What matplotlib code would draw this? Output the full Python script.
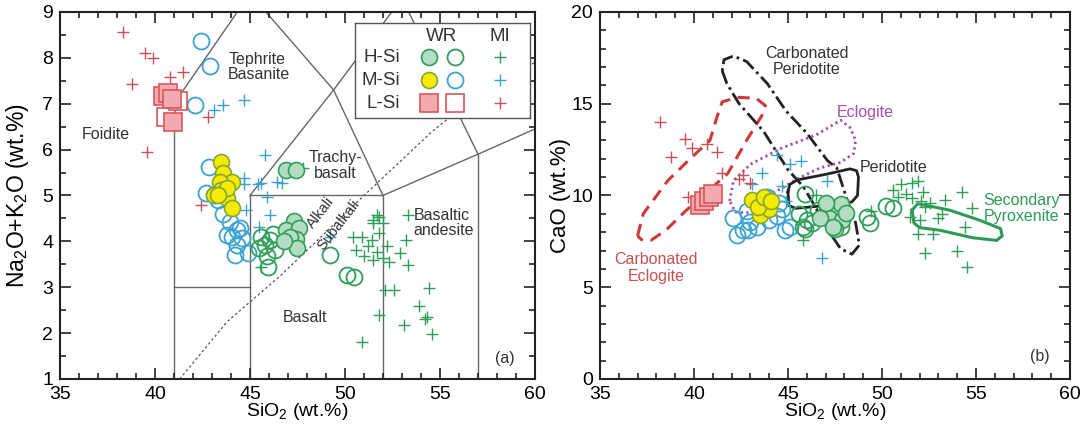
import numpy as np
import matplotlib.pyplot as plt
from matplotlib.ticker import MultipleLocator

plt.rcParams['font.family'] = ['Liberation Sans', 'DejaVu Sans']
plt.rcParams['mathtext.fontset'] = 'custom'
plt.rcParams['mathtext.rm'] = 'Liberation Sans'

# ---------------- data: (a) TAS ----------------
# L-Si
ls_mi_x = [38.3, 39.5, 39.9, 41.5, 40.8, 38.8, 42.8, 39.6, 42.4]
ls_mi_y = [8.57, 8.1, 7.99, 7.69, 7.59, 7.42, 6.72, 5.95, 4.8]
ls_wr_x = [40.4, 40.7, 40.9, 40.95]
ls_wr_y = [7.16, 7.24, 7.1, 6.61]
ls_wro_x = [40.6, 41.2]
ls_wro_y = [6.72, 7.05]
# M-Si
ms_mi_x = [43.1, 43.6, 44.7, 45.8, 44.7, 45.4, 46.4, 46.7, 45.9, 44.8, 46.05, 45.5, 49.2, 44.7, 45.6]
ms_mi_y = [6.87, 6.98, 7.09, 5.89, 5.39, 5.24, 5.3, 5.28, 4.97, 4.69, 4.58, 4.32, 4.1, 5.24, 5.28]
ms_wr_x = [43.5, 43.6, 44.05, 43.4, 43.5, 43.8, 43.1, 44.05, 43.8, 43.3]
ms_wr_y = [5.74, 5.5, 5.3, 5.3, 5.13, 4.95, 5.0, 4.73, 5.17, 5.02]
ms_wro_x = [42.4, 42.9, 42.1, 42.85, 43.1, 42.7, 43.3, 43.95, 44.3, 44.05, 44.6, 44.3, 44.9, 44.2, 43.8, 44.5, 43.6]
ms_wro_y = [8.36, 7.83, 6.98, 5.62, 5.0, 5.06, 4.9, 4.43, 4.25, 4.1, 4.08, 3.93, 3.75, 3.7, 4.14, 4.3, 4.6]
# H-Si
hs_mi_x = [51.7, 51.5, 52.0, 50.4, 50.9, 51.4, 51.8, 50.6, 51.2, 51.7, 52.2, 52.0, 51.5, 52.3, 51.0,
           53.3, 53.2, 52.9, 53.3, 52.1, 52.6, 54.4, 53.9, 54.2, 54.3, 54.6, 53.1, 51.8, 50.9,
           51.5, 51.8, 45.6, 47.8]
hs_mi_y = [4.58, 4.4, 4.4, 4.1, 4.1, 4.03, 4.19, 3.82, 3.89, 3.77, 3.89, 3.64, 3.6, 3.56, 3.67,
           4.58, 4.03, 3.75, 3.49, 2.94, 2.94, 2.99, 2.6, 2.31, 2.35, 1.98, 2.18, 2.4, 1.81,
           4.47, 4.54, 3.45, 5.6]
hs_wr_x = [46.9, 47.4, 47.3, 46.9, 47.6, 47.4, 47.1, 47.5, 46.8]
hs_wr_y = [5.55, 5.56, 4.45, 4.25, 4.3, 4.05, 4.1, 3.85, 4.0]
hs_wro_x = [45.8, 46.05, 45.6, 46.3, 45.9, 45.95, 45.5, 46.2, 46.9, 49.2, 50.1, 50.5]
hs_wro_y = [3.93, 4.03, 4.1, 3.82, 3.67, 3.45, 3.85, 4.15, 4.03, 3.7, 3.27, 3.23]

# TAS field boundaries (Le Bas et al., 1986)
tas_lines = [
    [(41, 1), (41, 7)],
    [(41, 3), (45, 3)],
    [(45, 1), (45, 5)],
    [(45, 5), (52, 5)],
    [(52, 1), (52, 5)],
    [(57, 1), (57, 5.9)],
    [(52, 5), (57, 5.9), (63, 7)],
    [(45, 5), (49.4, 7.3), (53, 9.3)],
    [(41, 7), (45, 9.4)],
    [(45, 9.4), (49.4, 7.3), (52, 5)],
    [(57, 5.9), (53, 9.3), (48.4, 11.5)],
]
alk_x = [41.3, 43.8, 46.6, 49.0, 51.0, 54.6, 57.0, 60.0]
alk_y = [1.0, 2.25, 3.25, 4.2, 5.0, 6.4, 7.2, 7.9]

# ---------------- data: (b) CaO ----------------
ls_mi2_x = [38.2, 39.5, 39.9, 38.8, 40.7, 41.2, 41.5, 39.7, 42.6, 43.0, 42.4]
ls_mi2_y = [14.0, 13.1, 12.6, 12.1, 12.8, 12.35, 11.25, 9.9, 11.1, 10.7, 10.9]
ls_wr2_x = [40.3, 40.55, 40.8, 41.0]
ls_wr2_y = [9.5, 9.7, 9.9, 10.1]
ms_mi2_x = [44.4, 45.7, 45.1, 43.6, 43.1, 44.7, 47.1, 44.9, 46.8]
ms_mi2_y = [12.2, 11.9, 11.7, 11.2, 10.65, 10.5, 10.8, 9.7, 6.58]
ms_wr2_x = [43.1, 43.8, 43.5, 44.0, 43.4, 43.7, 44.1]
ms_wr2_y = [9.73, 9.62, 8.91, 9.29, 9.35, 9.9, 9.7]
ms_wro2_x = [42.1, 42.6, 43.0, 43.35, 44.4, 44.7, 45.1, 42.8, 44.0, 42.3, 42.9, 44.85, 43.9, 44.5]
ms_wro2_y = [8.75, 8.1, 8.53, 8.26, 8.9, 9.29, 8.26, 9.18, 8.64, 7.83, 8.1, 8.1, 9.9, 9.6]
hs_mi2_x = [51.0, 51.6, 51.9, 50.6, 51.3, 52.2, 50.85, 51.6, 52.1, 52.55, 52.3, 51.5, 52.0, 53.0,
            53.35, 54.25, 54.8, 53.2, 54.4, 51.9, 52.7, 52.3, 54.0, 54.5, 49.4, 45.8, 46.5]
hs_mi2_y = [10.65, 10.7, 10.8, 10.3, 10.1, 10.2, 9.9, 9.85, 9.7, 9.6, 9.35, 8.8, 8.64, 8.75,
            9.73, 10.2, 9.3, 9.0, 8.3, 7.9, 7.9, 6.85, 7.0, 6.1, 9.18, 7.55, 10.0]
hs_wr2_x = [47.1, 47.6, 47.2, 47.9, 47.5, 46.7, 47.8, 48.1, 47.4, 47.0]
hs_wr2_y = [9.35, 9.18, 8.75, 8.64, 8.2, 8.75, 9.56, 9.07, 8.26, 9.6]
hs_wro2_x = [45.9, 45.6, 46.0, 45.8, 46.3, 49.2, 49.35, 45.9, 47.8, 50.2, 50.6, 47.8, 46.6]
hs_wro2_y = [10.1, 9.0, 8.64, 8.26, 8.48, 8.8, 8.5, 8.2, 9.0, 9.45, 9.3, 8.26, 9.2]

# field outlines
ce_x = [37.0, 37.3, 38.6, 39.8, 40.85, 41.2, 41.5, 42.3, 43.3, 43.8, 43.7, 42.8, 41.8, 40.6, 39.6, 38.5, 37.7, 37.2, 37.0]
ce_y = [7.8, 9.0, 10.8, 12.0, 13.0, 14.2, 15.1, 15.35, 15.3, 14.9, 14.5, 13.0, 11.2, 10.1, 9.2, 8.1, 7.55, 7.6, 7.8]
cp_x = [41.5, 41.75, 42.4, 43.7, 45.0, 45.8, 46.5, 47.2, 47.8, 48.4, 48.8, 48.6, 48.1, 47.6, 47.1, 46.0, 44.9, 43.9, 42.8, 42.1, 41.6, 41.5]
cp_y = [16.8, 16.1, 15.0, 13.5, 11.4, 10.5, 9.3, 8.0, 7.1, 6.8, 7.3, 8.5, 9.9, 11.5, 11.9, 13.4, 14.6, 16.1, 17.3, 17.6, 17.4, 16.8]
ec_x = [41.9, 42.1, 43.0, 44.7, 46.5, 47.8, 48.3, 48.6, 48.5, 47.8, 46.7, 45.5, 44.0, 42.8, 42.2, 41.9]
ec_y = [9.7, 10.8, 11.7, 12.6, 13.3, 14.1, 13.7, 13.0, 12.3, 11.8, 11.5, 10.9, 10.0, 9.05, 9.1, 9.7]
pe_x = [45.0, 45.1, 45.5, 47.0, 48.3, 48.65, 48.75, 48.7, 48.4, 47.0, 45.4, 45.05, 45.0]
pe_y = [10.2, 10.6, 10.85, 11.15, 11.45, 11.35, 11.0, 10.0, 9.65, 9.45, 9.3, 9.45, 10.2]
sp_x = [51.6, 51.9, 52.4, 53.6, 55.2, 56.3, 56.4, 56.1, 54.8, 53.1, 52.0, 51.7, 51.6]
sp_y = [9.2, 9.55, 9.45, 9.2, 8.65, 8.2, 7.8, 7.55, 7.7, 8.1, 8.25, 8.5, 9.2]

# colours
g_edge = '#2f9e5a'
g_face = '#b3dcc0'
y_face = '#f7ea00'
y_edge = '#7fa83a'
b_col = '#3ba3d4'
r_edge = '#d9565b'
r_face = '#f2aab0'
r_plus = '#c8505a'
txt = '#333333'

fig = plt.figure(figsize=(10.81, 4.29), dpi=100)
ax1 = fig.add_axes([0.0555, 0.1166, 0.4394, 0.8555])
ax2 = fig.add_axes([0.555, 0.1166, 0.4348, 0.8555])

def style(ax):
    for s in ax.spines.values():
        s.set_linewidth(1.5)
        s.set_color('#222222')
    ax.tick_params(which='both', direction='in', top=True, right=True, color='#222222', width=1.2)
    ax.tick_params(which='major', length=8, labelsize=14, pad=5)
    ax.tick_params(which='minor', length=4)

def draw_groups(ax, d):
    ms_c, ms_s, ms_p = 11.5, 13, 8
    ax.plot(d['hs_mi'][0], d['hs_mi'][1], '+', color=g_edge, ms=ms_p, mew=1.0, ls='none')
    ax.plot(d['ms_mi'][0], d['ms_mi'][1], '+', color=b_col, ms=ms_p, mew=1.0, ls='none')
    ax.plot(d['ls_mi'][0], d['ls_mi'][1], '+', color=r_plus, ms=ms_p, mew=1.0, ls='none')
    ax.plot(d['ms_wro'][0], d['ms_wro'][1], 'o', mfc='none', mec=b_col, ms=ms_c, mew=1.3, ls='none')
    ax.plot(d['hs_wro'][0], d['hs_wro'][1], 'o', mfc='none', mec=g_edge, ms=ms_c, mew=1.3, ls='none')
    ax.plot(d['hs_wr'][0], d['hs_wr'][1], 'o', mfc=g_face, mec=g_edge, ms=ms_c, mew=1.2, ls='none')
    ax.plot(d['ms_wr'][0], d['ms_wr'][1], 'o', mfc=y_face, mec=y_edge, ms=ms_c, mew=1.2, ls='none')
    if 'ls_wro' in d:
        ax.plot(d['ls_wro'][0], d['ls_wro'][1], 's', mfc='white', mec=r_edge, ms=ms_s, mew=1.2, ls='none')
    ax.plot(d['ls_wr'][0], d['ls_wr'][1], 's', mfc=r_face, mec=r_edge, ms=ms_s, mew=1.2, ls='none')

# ---------------- panel (a) ----------------
for seg in tas_lines:
    xs, ys = zip(*seg)
    ax1.plot(xs, ys, color='#666666', lw=1.0, zorder=1)
ax1.plot(alk_x, alk_y, color='#555555', lw=0.9, ls=(0, (2, 2)), zorder=1)

draw_groups(ax1, {'hs_mi': (hs_mi_x, hs_mi_y), 'ms_mi': (ms_mi_x, ms_mi_y), 'ls_mi': (ls_mi_x, ls_mi_y),
                  'ms_wro': (ms_wro_x, ms_wro_y), 'hs_wro': (hs_wro_x, hs_wro_y),
                  'hs_wr': (hs_wr_x, hs_wr_y), 'ms_wr': (ms_wr_x, ms_wr_y),
                  'ls_wro': (ls_wro_x, ls_wro_y), 'ls_wr': (ls_wr_x, ls_wr_y)})

fs = 11.5
ax1.text(37.4, 6.33, 'Foidite', fontsize=fs, color=txt, ha='center', va='center')
ax1.text(43.85, 7.8, 'Tephrite\nBasanite', fontsize=fs, color=txt, ha='left', va='center', linespacing=1.05)
ax1.text(49.5, 5.65, 'Trachy-\nbasalt', fontsize=fs, color=txt, ha='center', va='center', linespacing=1.05)
ax1.text(53.6, 4.4, 'Basaltic\nandesite', fontsize=fs, color=txt, ha='left', va='center', linespacing=1.05)
ax1.text(47.9, 2.33, 'Basalt', fontsize=fs, color=txt, ha='center', va='center')
ax1.text(48.7, 4.62, 'Alkali', fontsize=10.5, color=txt, ha='center', va='center', rotation=52)
ax1.text(49.65, 4.35, 'Subalkali', fontsize=10.5, color=txt, ha='center', va='center', rotation=52)
ax1.text(58.4, 1.45, '(a)', fontsize=11.5, color=txt, ha='center', va='center')

ax1.set_xlim(35, 60)
ax1.set_ylim(1, 9)
ax1.xaxis.set_major_locator(MultipleLocator(5))
ax1.xaxis.set_minor_locator(MultipleLocator(1))
ax1.yaxis.set_major_locator(MultipleLocator(1))
ax1.yaxis.set_minor_locator(MultipleLocator(0.5))
style(ax1)
ax1.set_xlabel('SiO$_2$ (wt.%)', fontsize=14)
ax1.set_ylabel('Na$_2$O+K$_2$O (wt.%)', fontsize=16.5)
ax1.xaxis.set_label_coords(0.5, -0.06)
ax1.yaxis.set_label_coords(-0.06, 0.5)

# legend box drawn as a small inset
lg = ax1.inset_axes([0.621, 0.711, 0.368, 0.259])
lg.set_xlim(0, 1)
lg.set_ylim(0, 1)
lg.set_xticks([])
lg.set_yticks([])
for s in lg.spines.values():
    s.set_linewidth(1.0)
    s.set_color('#555555')
rows_y = [0.642, 0.40, 0.158]
row_names = ['H-Si', 'M-Si', 'L-Si']
lg.text(0.497, 0.863, 'WR', fontsize=13.5, color=txt, ha='center', va='center')
lg.text(0.829, 0.863, 'MI', fontsize=13.5, color=txt, ha='center', va='center')
for yy, nm in zip(rows_y, row_names):
    lg.text(0.257, yy, nm, fontsize=13.5, color=txt, ha='right', va='center')
lg.plot([0.423], [rows_y[0]], 'o', mfc=g_face, mec=g_edge, ms=11.5, mew=1.2)
lg.plot([0.571], [rows_y[0]], 'o', mfc='none', mec=g_edge, ms=11.5, mew=1.3)
lg.plot([0.829], [rows_y[0]], '+', color=g_edge, ms=8, mew=1.0)
lg.plot([0.423], [rows_y[1]], 'o', mfc=y_face, mec=y_edge, ms=11.5, mew=1.2)
lg.plot([0.571], [rows_y[1]], 'o', mfc='none', mec=b_col, ms=11.5, mew=1.3)
lg.plot([0.829], [rows_y[1]], '+', color=b_col, ms=8, mew=1.0)
lg.plot([0.423], [rows_y[2]], 's', mfc=r_face, mec=r_edge, ms=13, mew=1.2)
lg.plot([0.571], [rows_y[2]], 's', mfc='white', mec=r_edge, ms=13, mew=1.2)
lg.plot([0.829], [rows_y[2]], '+', color=r_plus, ms=8, mew=1.0)

# ---------------- panel (b) ----------------
ax2.plot(ce_x, ce_y, color='#cc3a3a', lw=2.2, ls=(0, (4, 2.5)), zorder=1)
ax2.plot(cp_x, cp_y, color='#222222', lw=2.0, ls=(0, (5, 1.5, 1, 1.5)), zorder=1)
ax2.plot(ec_x, ec_y, color='#a050a8', lw=2.0, ls=(0, (0.8, 1.2)), zorder=1)
ax2.plot(pe_x, pe_y, color='#222222', lw=2.0, zorder=1)
ax2.plot(sp_x, sp_y, color='#2e9a55', lw=2.2, zorder=1)

draw_groups(ax2, {'hs_mi': (hs_mi2_x, hs_mi2_y), 'ms_mi': (ms_mi2_x, ms_mi2_y), 'ls_mi': (ls_mi2_x, ls_mi2_y),
                  'ms_wro': (ms_wro2_x, ms_wro2_y), 'hs_wro': (hs_wro2_x, hs_wro2_y),
                  'hs_wr': (hs_wr2_x, hs_wr2_y), 'ms_wr': (ms_wr2_x, ms_wr2_y),
                  'ls_wr': (ls_wr2_x, ls_wr2_y)})

ax2.text(46.0, 17.3, 'Carbonated\nPeridotite', fontsize=fs, color=txt, ha='center', va='center', linespacing=1.05)
ax2.text(49.1, 14.5, 'Eclogite', fontsize=fs, color='#a050a8', ha='center', va='center')
ax2.text(50.6, 11.5, 'Peridotite', fontsize=fs, color=txt, ha='center', va='center')
ax2.text(55.4, 9.3, 'Secondary\nPyroxenite', fontsize=fs, color='#2e9a55', ha='left', va='center', linespacing=1.05)
ax2.text(38.0, 6.06, 'Carbonated\nEclogite', fontsize=fs, color='#c85050', ha='center', va='center', linespacing=1.15)
ax2.text(58.4, 1.25, '(b)', fontsize=11.5, color=txt, ha='center', va='center')

ax2.set_xlim(35, 60)
ax2.set_ylim(0, 20)
ax2.xaxis.set_major_locator(MultipleLocator(5))
ax2.xaxis.set_minor_locator(MultipleLocator(1))
ax2.yaxis.set_major_locator(MultipleLocator(5))
ax2.yaxis.set_minor_locator(MultipleLocator(1))
style(ax2)
ax2.set_xlabel('SiO$_2$ (wt.%)', fontsize=14)
ax2.set_ylabel('CaO (wt.%)', fontsize=16)
ax2.xaxis.set_label_coords(0.5, -0.06)
ax2.yaxis.set_label_coords(-0.062, 0.5)

fig.savefig('out.png', dpi=100)
